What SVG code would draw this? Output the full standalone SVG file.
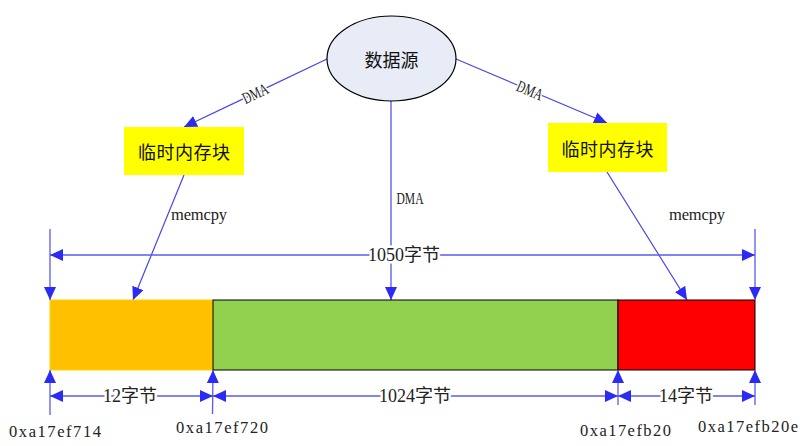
<svg xmlns="http://www.w3.org/2000/svg" width="804" height="446" viewBox="0 0 804 446">
<defs>
<marker id="ah" markerUnits="userSpaceOnUse" markerWidth="14" markerHeight="13" refX="13" refY="6" orient="auto-start-reverse" viewBox="0 0 14 12">
<path d="M0,0 L13,6 L0,12 z" fill="#2b2bf5"/>
</marker>
<style>
.conn{stroke:#4646e6;stroke-width:1.2;fill:none}
.dim{stroke:#5a5aee;stroke-width:1.3;fill:none}
.cn{font-family:"Noto Sans CJK SC","Noto Sans",sans-serif;font-size:18px;fill:#111;text-anchor:middle;dominant-baseline:central}
.lat{font-family:"Liberation Serif","Noto Sans CJK SC",serif;font-size:16.5px;fill:#222;text-anchor:middle}
.dl{font-family:"Liberation Serif","Noto Sans CJK SC",serif;font-size:18px;fill:#222;text-anchor:middle;dominant-baseline:central;paint-order:stroke;stroke:#fff;stroke-width:5}
.lbl{paint-order:stroke;stroke:#fff;stroke-width:4}
</style>
</defs>
<rect width="804" height="446" fill="#fff"/>

<g id="connectors">
<line class="conn" x1="327" y1="59" x2="184" y2="127" marker-end="url(#ah)"/>
<line class="conn" x1="456" y1="59" x2="607" y2="123" marker-end="url(#ah)"/>
<line class="conn" x1="391" y1="101" x2="391" y2="300" marker-end="url(#ah)"/>
<line class="conn" x1="184" y1="175" x2="133" y2="300" marker-end="url(#ah)"/>
<line class="conn" x1="607" y1="172" x2="687" y2="300" marker-end="url(#ah)"/>
<text class="lat lbl" x="255" y="99" transform="rotate(-25.4 255 93)" textLength="27" lengthAdjust="spacingAndGlyphs">DMA</text>
<text class="lat lbl" x="530" y="96" transform="rotate(23 530 90)" textLength="27" lengthAdjust="spacingAndGlyphs">DMA</text>
<text class="lat" x="410" y="204" textLength="27" lengthAdjust="spacingAndGlyphs">DMA</text>
<text class="lat" x="199" y="220" textLength="56" lengthAdjust="spacing">memcpy</text>
<text class="lat" x="697" y="220" textLength="56" lengthAdjust="spacing">memcpy</text>
</g>

<g id="source">
<ellipse cx="391.5" cy="58.5" rx="64.5" ry="42.5" fill="#e8ecf6" stroke="#000" stroke-width="1.2"/>
<text class="cn" x="391.5" y="58.5">数据源</text>
</g>
<g id="temp-left">
<rect x="124" y="127" width="120" height="48" fill="#ffff00"/>
<text class="cn" x="184" y="151" textLength="92" lengthAdjust="spacing">临时内存块</text>
</g>
<g id="temp-right">
<rect x="548" y="123" width="119" height="49" fill="#ffff00"/>
<text class="cn" x="607.5" y="147.5" textLength="92" lengthAdjust="spacing">临时内存块</text>
</g>

<g id="buffer">
<rect id="seg-head" x="50" y="300" width="163" height="70" fill="#ffc000" stroke="#ffd400" stroke-width="1"/>
<rect id="seg-mid" x="213" y="300" width="405" height="70" fill="#92d050" stroke="#000" stroke-width="1"/>
<rect id="seg-tail" x="618" y="300" width="137" height="70" fill="#ff0000" stroke="#000" stroke-width="1"/>
</g>

<g id="dimensions">
<line class="dim" x1="50" y1="229" x2="50" y2="300" marker-end="url(#ah)"/>
<line class="dim" x1="755" y1="229" x2="755" y2="300" marker-end="url(#ah)"/>
<line class="dim" x1="50" y1="255" x2="755" y2="255" marker-start="url(#ah)" marker-end="url(#ah)"/>
<text class="dl" x="404" y="255">1050字节</text>

<line class="dim" x1="50" y1="415" x2="50" y2="370" marker-end="url(#ah)"/>
<line class="dim" x1="212.5" y1="414" x2="213" y2="370" marker-end="url(#ah)"/>
<line class="dim" x1="618" y1="405" x2="618" y2="370" marker-end="url(#ah)"/>
<line class="dim" x1="755" y1="405" x2="755" y2="370" marker-end="url(#ah)"/>

<line class="dim" x1="50" y1="396" x2="213" y2="396" marker-start="url(#ah)" marker-end="url(#ah)"/>
<line class="dim" x1="213" y1="396" x2="618" y2="396" marker-start="url(#ah)" marker-end="url(#ah)"/>
<line class="dim" x1="618" y1="396" x2="755" y2="396" marker-start="url(#ah)" marker-end="url(#ah)"/>
<text class="dl" x="130" y="396">12字节</text>
<text class="dl" x="415" y="396">1024字节</text>
<text class="dl" x="686" y="396">14字节</text>

<text class="lat" x="55" y="437" textLength="92" lengthAdjust="spacing">0xa17ef714</text>
<text class="lat" x="222" y="433" textLength="92" lengthAdjust="spacing">0xa17ef720</text>
<text class="lat" x="625.5" y="436" textLength="91" lengthAdjust="spacing">0xa17efb20</text>
<text class="lat" x="748" y="432" textLength="100" lengthAdjust="spacing">0xa17efb20e</text>
</g>
</svg>
